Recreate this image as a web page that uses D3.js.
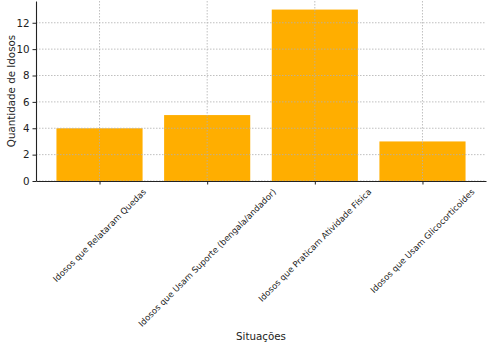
<!DOCTYPE html>
<html>
<head>
<meta charset="utf-8">
<script src="https://cdn.jsdelivr.net/npm/d3@7"></script>
<style>
  body { margin: 0; background: #fff; }
  svg { display: block; font-family: "DejaVu Sans", sans-serif; }
  .grid line { stroke: #b0b0b0; stroke-dasharray: 1.5,1.5; stroke-opacity: 0.8; }
  .axis path, .axis line { stroke: #222; }
</style>
</head>
<body>
<div id="chart"></div>
<script>
// chart data
const categories = [
    "Idosos que Relataram Quedas",
    "Idosos que Usam Suporte (bengala/andador)",
    "Idosos que Praticam Atividade Física",
    "Idosos que Usam Glicocorticoides"
];
const counts = [4, 5, 13, 3];
const yTicks = [0, 2, 4, 6, 8, 10, 12];

const width = 492, height = 348;
const margin = {top: 1, right: 6, bottom: 167, left: 36};
const innerW = width - margin.left - margin.right;
const innerH = height - margin.top - margin.bottom;
const catFont = 8.5, mainFont = 10.3;

const svg = d3.select("#chart").append("svg")
    .attr("width", width)
    .attr("height", height);

const g = svg.append("g")
    .attr("transform", "translate(" + margin.left + "," + margin.top + ")");

// matplotlib-like limits: bars of width 0.8, 5% margins
const n = categories.length;
const pad = (n - 1 + 0.8) * 0.05;
const x = d3.scaleLinear()
    .domain([-0.4 - pad, n - 1 + 0.4 + pad])
    .range([0, innerW]);
const y = d3.scaleLinear()
    .domain([0, d3.max(counts) * 1.05])
    .range([innerH, 0]);

// bars
g.selectAll(".bar")
    .data(counts)
    .enter()
    .append("rect")
    .attr("class", "bar")
    .attr("x", (d, i) => x(i - 0.4))
    .attr("width", x(0.8) - x(0))
    .attr("y", d => y(d))
    .attr("height", d => innerH - y(d))
    .attr("fill", "#ffae00");

// grid on top of bars
const grid = g.append("g").attr("class", "grid");
grid.selectAll(".hgrid")
    .data(yTicks)
    .enter()
    .append("line")
    .attr("x1", 0).attr("x2", innerW)
    .attr("y1", d => y(d)).attr("y2", d => y(d));
grid.selectAll(".vgrid")
    .data(d3.range(n))
    .enter()
    .append("line")
    .attr("x1", d => x(d)).attr("x2", d => x(d))
    .attr("y1", 0).attr("y2", innerH);

// y axis
const yAxis = g.append("g")
    .attr("class", "axis")
    .call(d3.axisLeft(y).tickValues(yTicks).tickSize(3.5).tickPadding(3).tickSizeOuter(0));
yAxis.selectAll("text")
    .attr("font-size", mainFont)
    .attr("fill", "#222")
    .attr("font-family", "DejaVu Sans");
yAxis.select(".domain").attr("stroke-width", 1.1);

// x axis
const xAxis = g.append("g")
    .attr("class", "axis")
    .attr("transform", "translate(0," + innerH + ")")
    .call(d3.axisBottom(x).tickValues(d3.range(n)).tickSize(3.5).tickFormat("").tickSizeOuter(0));
xAxis.select(".domain").attr("stroke-width", 1.1);

// rotated category labels, bbox centered on the tick
const labelTop = innerH + 6;
const labels = g.append("g").selectAll(".xlab")
    .data(categories)
    .enter()
    .append("text")
    .attr("class", "xlab")
    .attr("font-size", catFont)
    .attr("fill", "#222")
    .attr("text-anchor", "middle")
    .attr("dominant-baseline", "central")
    .text(d => d);

labels.attr("transform", function(d, i) {
    let L = this.getComputedTextLength();
    let h = catFont * 1.1;
    let half = (L + h) / (2 * Math.SQRT2);
    return "translate(" + x(i) + "," + (labelTop + half) + ") rotate(-45)";
});

// axis titles
svg.append("text")
    .attr("x", margin.left + innerW / 2)
    .attr("y", 340)
    .attr("text-anchor", "middle")
    .attr("font-size", mainFont)
    .attr("fill", "#222")
    .text("Situações");

svg.append("text")
    .attr("transform", "translate(15," + (margin.top + innerH / 2) + ") rotate(-90)")
    .attr("text-anchor", "middle")
    .attr("font-size", mainFont)
    .attr("fill", "#222")
    .text("Quantidade de Idosos");
</script>
</body>
</html>
